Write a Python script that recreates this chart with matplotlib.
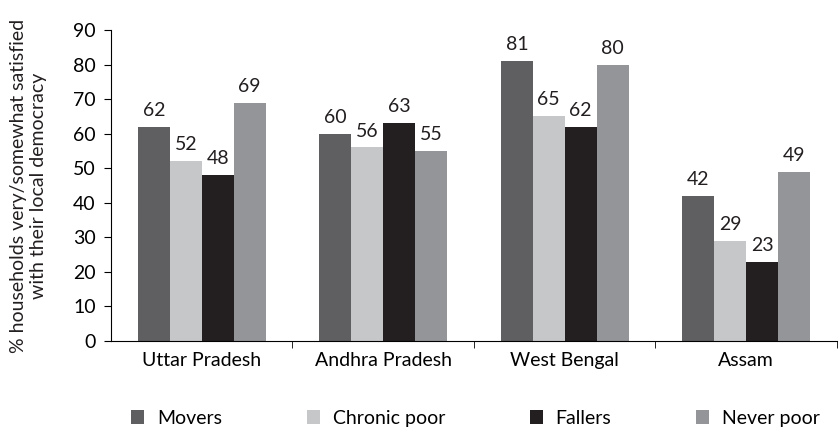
import numpy as np
import matplotlib.pyplot as plt

states = ["Uttar Pradesh", "Andhra Pradesh", "West Bengal", "Assam"]
series = ["Movers", "Chronic poor", "Fallers", "Never poor"]
movers = [62, 60, 81, 42]
chronic_poor = [52, 56, 65, 29]
fallers = [48, 63, 62, 23]
never_poor = [69, 55, 80, 49]
colors = ["#5f5f61", "#c6c7c9", "#231f20", "#949598"]

plt.rcParams["font.family"] = ["Lato", "DejaVu Sans"]
plt.rcParams["font.size"] = 14

fig = plt.figure(figsize=(8.39, 4.28), dpi=100)
ax = fig.add_axes([0.1323, 0.2033, 0.8653, 0.7267])

x = np.arange(len(states))
w = 0.176
values = [movers, chronic_poor, fallers, never_poor]
for i, (name, vals) in enumerate(zip(series, values)):
    pos = x + (i - 1.5) * w
    bars = ax.bar(pos, vals, w, color=colors[i], label=name)
    for b, v in zip(bars, vals):
        ax.text(b.get_x() + w / 2, v + 2.3, str(v), ha="center", va="bottom",
                color="#231f20")

ax.set_xlim(-0.5, 3.5)
ax.set_ylim(0, 90)
ax.set_yticks(range(0, 91, 10))
ax.set_xticks(x)
ax.set_xticklabels(states)
ax.set_xticks(np.arange(0.5, 4.0, 1.0), minor=True)
ax.tick_params(axis="x", which="major", length=0, pad=8)
ax.tick_params(axis="x", which="minor", length=5, direction="out")
ax.tick_params(axis="y", length=5, direction="out", pad=6)
ax.spines["top"].set_visible(False)
ax.spines["right"].set_visible(False)
ax.set_ylabel("% households very/somewhat satisfied\nwith their local democracy",
              color="#231f20", linespacing=1.25)
ax.yaxis.set_label_coords(-0.088, 0.5)

ax.legend(loc="upper center", bbox_to_anchor=(0.502, -0.184), ncol=4, frameon=False,
          handlelength=0.67, handleheight=0.67, columnspacing=4.35, handletextpad=0.67,
          borderaxespad=0.2)

fig.savefig("out.png", dpi=100)
